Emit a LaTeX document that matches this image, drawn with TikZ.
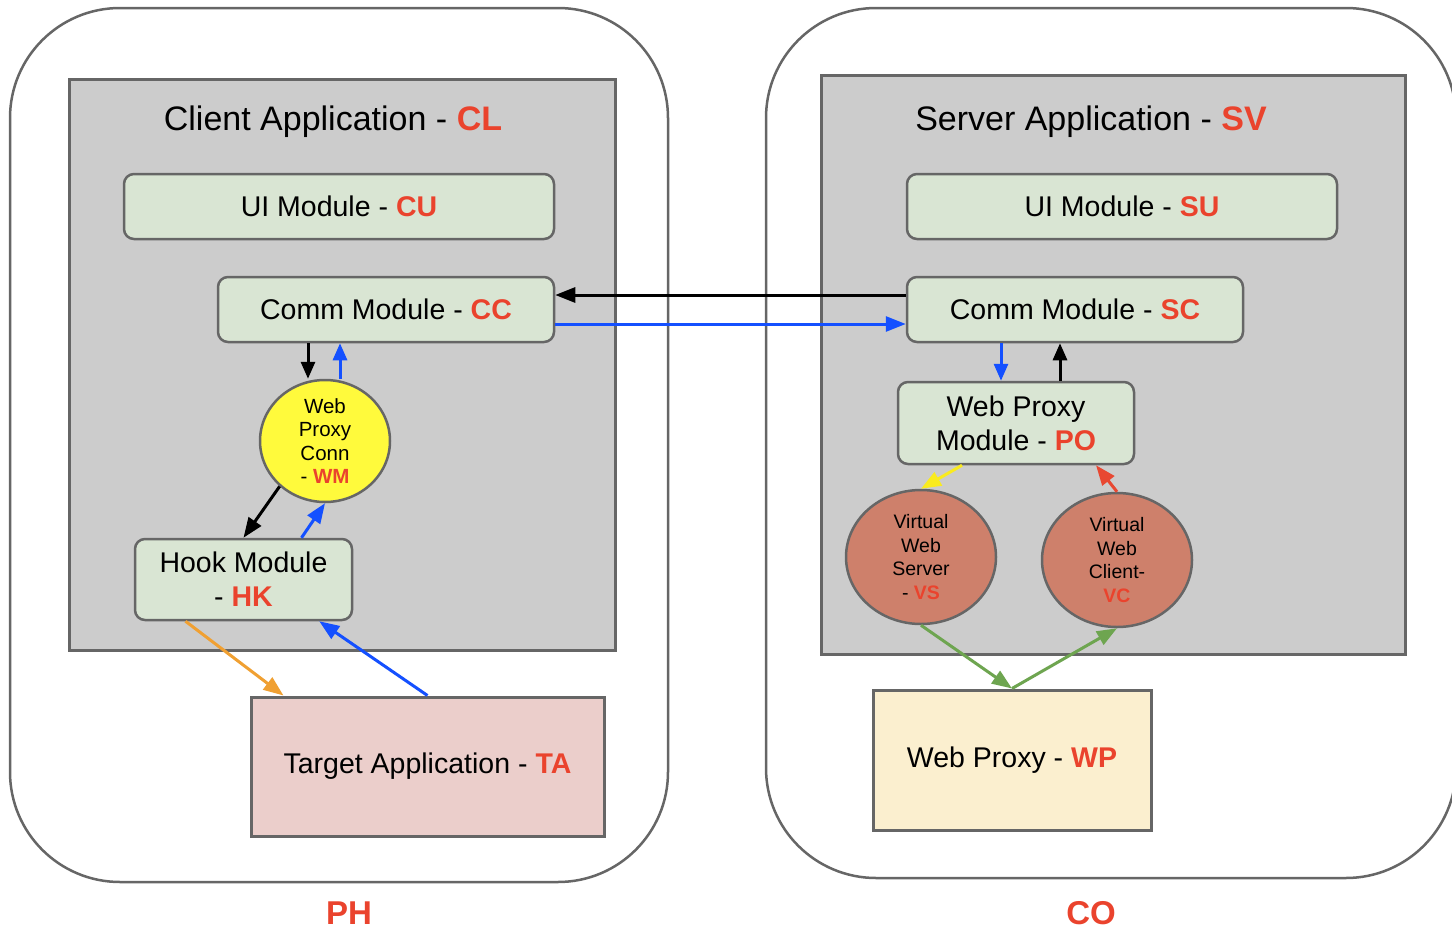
\documentclass[tikz,border=0pt]{standalone}
\usepackage{fontspec}
\setmainfont{Liberation Sans}
\usetikzlibrary{arrows.meta,shapes.geometric}
\definecolor{accent}{RGB}{234,67,45}
\definecolor{edge}{RGB}{102,102,102}
\definecolor{panelgray}{RGB}{204,204,204}
\definecolor{module}{RGB}{217,229,211}
\definecolor{wmyellow}{RGB}{255,250,60}
\definecolor{virt}{RGB}{206,128,107}
\definecolor{target}{RGB}{235,206,203}
\definecolor{proxy}{RGB}{251,239,207}
\definecolor{linkblue}{RGB}{20,80,255}
\definecolor{linkorange}{RGB}{240,160,50}
\definecolor{linkgreen}{RGB}{110,165,80}
\definecolor{linkyellow}{RGB}{250,235,30}
\definecolor{linkred}{RGB}{232,72,50}
\newcommand{\acr}[1]{\textcolor{accent}{\bfseries #1}}
\begin{document}
\begin{tikzpicture}[x=1pt,y=-1pt,
  host/.style={draw=edge, line width=2.5pt, rounded corners=110pt, fill=white, inner sep=0pt},
  appbox/.style={draw=edge, line width=3pt, fill=panelgray, inner sep=0pt},
  title/.style={font=\fontsize{34}{40}\selectfont},
  modbox/.style={draw=edge, line width=2.5pt, fill=module, rounded corners=10pt, inner sep=0pt,
    font=\fontsize{28.5}{34}\selectfont, align=center},
  virtnode/.style={ellipse, draw=edge, line width=2.5pt, fill=virt, inner sep=0pt,
    font=\fontsize{19.5}{23.5}\selectfont, align=center},
  plainbox/.style={draw=edge, line width=3pt, inner sep=0pt, font=\fontsize{28.5}{34}\selectfont},
  hostlabel/.style={font=\fontsize{33}{38}\selectfont\bfseries, text=accent},
  link/.style={line width=3pt, -{Triangle[length=20pt,width=15pt]}},
  shortlink/.style={line width=3pt, -{Triangle[length=17pt,width=14pt]}}]
\useasboundingbox (0,0) rectangle (1452,929);

% hosts
\node[host, minimum width=658pt, minimum height=874pt] (ph) at (339,445) {};
\node[host, minimum width=690pt, minimum height=870pt] (co) at (1111,443) {};
\node[hostlabel] (phl) at (349,913) {PH};
\node[hostlabel] (col) at (1091,913) {CO};

% client application
\node[appbox, minimum width=546pt, minimum height=571pt] (cl) at (342,364.5) {};
\node[title] (clt) at (333,122) {Client Application - \acr{CL}};
\node[modbox, minimum width=430pt, minimum height=65pt] (cu) at (339,206.5) {UI Module - \acr{CU}};
\node[modbox, minimum width=336pt, minimum height=65pt] (cc) at (386,309.5) {Comm Module - \acr{CC}};
\node[ellipse, draw=edge, line width=2.5pt, fill=wmyellow, inner sep=0pt,
  minimum width=130pt, minimum height=122pt, align=center,
  font=\fontsize{20.5}{23.5}\selectfont] (wm) at (325,441) {Web\\Proxy\\Conn\\- \acr{WM}};
\node[modbox, minimum width=217pt, minimum height=81pt] (hk) at (243.5,579.5) {Hook Module\\- \acr{HK}};
\node[plainbox, fill=target, minimum width=353pt, minimum height=139pt] (ta) at (427.5,766.5)
  {\raisebox{-3pt}{Target Application - \acr{TA}}};

% server application
\node[appbox, minimum width=584pt, minimum height=579pt] (sv) at (1113,364.5) {};
\node[title] (svt) at (1091,122) {Server Application - \acr{SV}};
\node[modbox, minimum width=430pt, minimum height=65pt] (su) at (1122,206.5) {UI Module - \acr{SU}};
\node[modbox, minimum width=336pt, minimum height=65pt] (sc) at (1075,309.5) {Comm Module - \acr{SC}};
\node[modbox, minimum width=236pt, minimum height=82pt] (po) at (1016,423) {Web Proxy\\Module - \acr{PO}};
\node[virtnode, minimum width=150pt, minimum height=134pt] (vs) at (921,557) {Virtual\\Web\\Server\\- \acr{VS}};
\node[virtnode, minimum width=150pt, minimum height=134pt] (vc) at (1117,560) {Virtual\\Web\\Client-\\\acr{VC}};
\node[plainbox, fill=proxy, minimum width=278pt, minimum height=140pt] (wp) at (1012,760)
  {\raisebox{-3pt}{Web Proxy - \acr{WP}}};

% link end points
\coordinate (wmin) at ([xshift=-17pt]wm.north);
\coordinate (wmout) at ([xshift=15pt]wm.north);
\coordinate (poin) at ([xshift=-15pt]po.north);
\coordinate (poout) at ([xshift=44pt]po.north);

% client side links
\draw[link] ([yshift=14.5pt]sc.west) -- ([yshift=14.5pt]cc.east);
\draw[link, linkblue] ([yshift=-14.5pt]cc.east) -- ([yshift=-14.5pt]sc.west);
\draw[shortlink] (cc.south -| wmin) -- (wmin);
\draw[shortlink, linkblue] (wmout) -- (cc.south -| wmout);
\draw[link] (wm.225) -- (hk.north);
\draw[link, linkblue] ([xshift=58pt]hk.north) -- (wm.south);
\draw[link, linkorange] ([xshift=-58pt]hk.south) -- ([xshift=34pt]ta.north west);
\draw[link, linkblue] (ta.north) -- ([xshift=-34pt]hk.south east);

% server side links
\draw[shortlink, linkblue] (sc.south -| poin) -- (poin);
\draw[shortlink] (poout) -- (sc.south -| poout);
\draw[link, linkyellow] ([xshift=-54pt]po.south) -- (vs.north);
\draw[link, linkred] (vc.north) -- ([xshift=80pt]po.south);
\draw[link, linkgreen] (vs.south) -- (wp.north);
\draw[link, linkgreen] (wp.north) -- (vc.south);
\end{tikzpicture}
\end{document}
